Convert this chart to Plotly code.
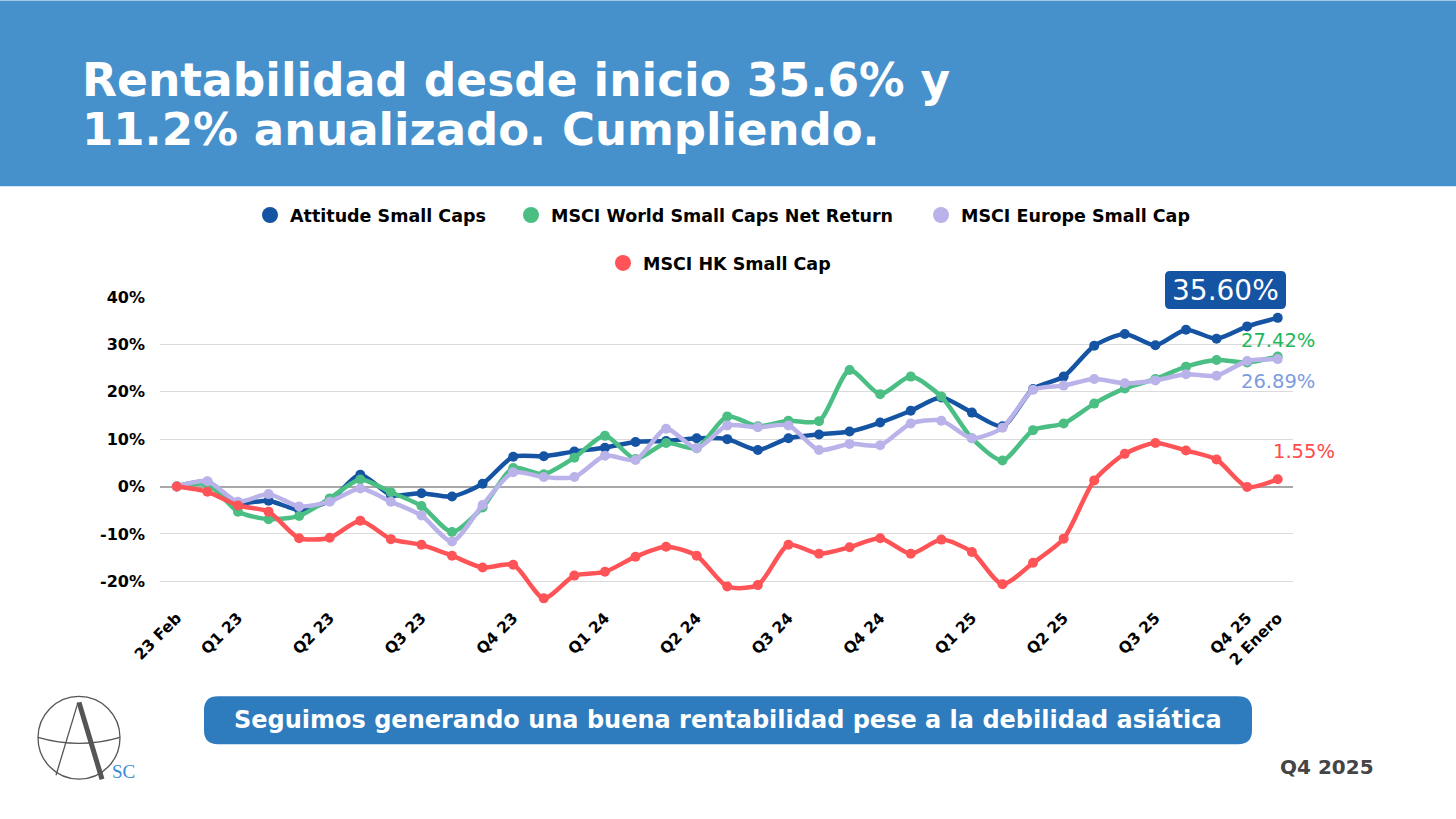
import plotly.graph_objects as go

# ---------------- data ----------------
n_points = 37
x_idx = list(range(n_points))

attitude = [0, 1.0, -3.4, -3.0, -4.9, -3.0, 2.5, -1.8, -1.4, -2.1, 0.6, 6.3, 6.4,
            7.4, 8.2, 9.4, 9.6, 10.2, 10.0, 7.7, 10.2, 11.0, 11.6, 13.5, 16.0,
            18.8, 15.6, 12.7, 20.6, 23.2, 29.7, 32.2, 29.8, 33.1, 31.2, 33.8, 35.6]
msci_world = [0, 0.5, -5.3, -6.9, -6.2, -2.5, 1.5, -1.2, -4.1, -9.6, -4.4, 3.9, 2.6,
              6.1, 10.7, 5.8, 9.2, 8.1, 14.8, 12.7, 13.9, 13.8, 24.6, 19.5, 23.2,
              19.0, 10.2, 5.5, 11.9, 13.3, 17.5, 20.7, 22.7, 25.3, 26.7, 26.2, 27.42]
msci_europe = [0, 1.1, -3.2, -1.6, -4.2, -3.2, -0.4, -3.2, -6.1, -11.6, -3.9, 3.0, 2.0,
               2.0, 6.5, 5.6, 12.2, 8.1, 12.9, 12.5, 12.9, 7.7, 9.0, 8.7, 13.3,
               13.9, 10.2, 12.4, 20.4, 21.3, 22.7, 21.8, 22.4, 23.7, 23.4, 26.5, 26.89]
msci_hk = [0, -1.1, -4.0, -5.3, -10.9, -10.8, -7.2, -11.1, -12.3, -14.6, -17.1, -16.5, -23.6,
           -18.8, -18.0, -14.8, -12.7, -14.6, -21.1, -20.8, -12.3, -14.2, -12.8, -10.9, -14.2,
           -11.2, -13.8, -20.6, -16.1, -11.0, 1.3, 6.9, 9.2, 7.6, 5.7, -0.1, 1.55]

series_names = ["Attitude Small Caps", "MSCI World Small Caps Net Return",
                "MSCI Europe Small Cap", "MSCI HK Small Cap"]
series_values = [attitude, msci_world, msci_europe, msci_hk]
series_colors = ["#1553A3", "#4BBE84", "#B9B3E9", "#FF5457"]

tick_positions = [0, 2, 5, 8, 11, 14, 17, 20, 23, 26, 29, 32, 35, 36]
tick_labels = ["23 Feb", "Q1 23", "Q2 23", "Q3 23", "Q4 23", "Q1 24", "Q2 24",
               "Q3 24", "Q4 24", "Q1 25", "Q2 25", "Q3 25", "Q4 25", "2 Enero"]
y_ticks = [-20, -10, 0, 10, 20, 30, 40]

end_labels = ["35.60%", "27.42%", "26.89%", "1.55%"]

title_lines = ["Rentabilidad desde inicio 35.6% y", "11.2% anualizado. Cumpliendo."]
banner_text = "Seguimos generando una buena rentabilidad pese a la debilidad asiática"
period_text = "Q4 2025"

# ---------------- layout helpers (pixel -> paper) ----------------
W, H = 1456, 819
PL, PR, PT, PB = 160, 1293, 297, 605.5


def px(x):
    return (x - PL) / (PR - PL)


def py(y):
    return (PB - y) / (PB - PT)


FONT = "DejaVu Sans"

fig = go.Figure()

for name, vals, col in zip(series_names, series_values, series_colors):
    fig.add_trace(go.Scatter(
        x=x_idx, y=vals, mode="lines+markers", name=name, showlegend=False,
        line=dict(color=col, width=4.5, shape="spline", smoothing=0.7),
        marker=dict(color=col, size=10),
        hoverinfo="skip",
    ))

# legend entries (circle markers only), one legend per entry for exact placement
legend_ids = ["legend", "legend2", "legend3", "legend4"]
legend_pos = [(271, 215), (532, 215), (942, 215), (624, 263)]  # marker centre, px
for name, col, lid in zip(series_names, series_colors, legend_ids):
    fig.add_trace(go.Scatter(
        x=[None], y=[None], mode="markers", name=name,
        marker=dict(color=col, size=17), legend=lid,
    ))

legend_layout = {}
for lid, (mx, my) in zip(legend_ids, legend_pos):
    legend_layout[lid] = dict(
        orientation="h", x=px(mx - 21), y=py(my), xanchor="left", yanchor="middle",
        font=dict(family=FONT, size=17.5, color="black", weight="bold"),
        itemsizing="trace", bgcolor="rgba(0,0,0,0)", borderwidth=0)

shapes = []
# title band
shapes.append(dict(type="rect", xref="paper", yref="paper", x0=px(0), x1=px(W),
                   y0=py(186), y1=py(0), fillcolor="#4691CB", line=dict(width=0), layer="below"))


def rounded_rect(x0, y0, x1, y1, r):
    X0, X1 = px(x0), px(x1)
    return (f"M {px(x0 + r)} {py(y0)} L {px(x1 - r)} {py(y0)} "
            f"Q {X1} {py(y0)} {X1} {py(y0 + r)} L {X1} {py(y1 - r)} "
            f"Q {X1} {py(y1)} {px(x1 - r)} {py(y1)} L {px(x0 + r)} {py(y1)} "
            f"Q {X0} {py(y1)} {X0} {py(y1 - r)} L {X0} {py(y0 + r)} "
            f"Q {X0} {py(y0)} {px(x0 + r)} {py(y0)} Z")


shapes.append(dict(type="path", xref="paper", yref="paper",
                   path=rounded_rect(204, 697, 1252, 745, 14),
                   fillcolor="#2E7BBE", line=dict(width=0)))
# 35.60% label box
shapes.append(dict(type="path", xref="paper", yref="paper",
                   path=rounded_rect(1165, 271, 1286, 309, 5),
                   fillcolor="#1553A3", line=dict(width=0)))

# logo
shapes.append(dict(type="circle", xref="paper", yref="paper",
                   x0=px(38), x1=px(120), y0=py(697), y1=py(780),
                   line=dict(color="#555555", width=1.3)))
shapes.append(dict(type="path", xref="paper", yref="paper",
                   path=f"M {px(38)} {py(738)} Q {px(79)} {py(750)} {px(120)} {py(738)}",
                   line=dict(color="#555555", width=1.3)))
shapes.append(dict(type="line", xref="paper", yref="paper",
                   x0=px(78), y0=py(703), x1=px(56), y1=py(776),
                   line=dict(color="#555555", width=1.3)))
shapes.append(dict(type="line", xref="paper", yref="paper",
                   x0=px(79), y0=py(703), x1=px(102), y1=py(780),
                   line=dict(color="#555555", width=5)))

annotations = [
    dict(text=f"<b>{title_lines[0]}</b>", x=px(80), y=py(80), xref="paper", yref="paper",
         xanchor="left", yanchor="middle", showarrow=False,
         font=dict(family=FONT, size=45.5, color="white")),
    dict(text=f"<b>{title_lines[1]}</b>", x=px(80), y=py(129), xref="paper", yref="paper",
         xanchor="left", yanchor="middle", showarrow=False,
         font=dict(family=FONT, size=45, color="white")),
    dict(text=f"<b>{banner_text}</b>",
         x=px(728), y=py(721), xref="paper", yref="paper", xanchor="center", yanchor="middle",
         showarrow=False, font=dict(family=FONT, size=24, color="white")),
    dict(text=f"<b>{period_text}</b>", x=px(1327), y=py(768), xref="paper", yref="paper",
         xanchor="center", yanchor="middle", showarrow=False,
         font=dict(family=FONT, size=20, color="#454545")),
    dict(text="SC", x=px(123), y=py(772), xref="paper", yref="paper",
         xanchor="center", yanchor="middle", showarrow=False,
         font=dict(family="Liberation Serif", size=19, color="#3C8BD6")),
    dict(text=end_labels[0], x=px(1225), y=py(290), xref="paper", yref="paper",
         xanchor="center", yanchor="middle", showarrow=False,
         font=dict(family=FONT, size=28, color="white")),
    dict(text=end_labels[1], x=px(1278), y=py(341), xref="paper", yref="paper",
         xanchor="center", yanchor="middle", showarrow=False,
         font=dict(family=FONT, size=19.5, color="#1DB75C")),
    dict(text=end_labels[2], x=px(1278), y=py(382), xref="paper", yref="paper",
         xanchor="center", yanchor="middle", showarrow=False,
         font=dict(family=FONT, size=19.5, color="#7E9BE0")),
    dict(text=end_labels[3], x=px(1304), y=py(452), xref="paper", yref="paper",
         xanchor="center", yanchor="middle", showarrow=False,
         font=dict(family=FONT, size=19.5, color="#FF4B4B")),
]

fig.update_layout(
    width=W, height=H,
    margin=dict(l=PL, r=W - PR, t=PT, b=H - PB, pad=0),
    paper_bgcolor="white", plot_bgcolor="white",
    font=dict(family=FONT, color="black"),
    shapes=shapes, annotations=annotations,
    xaxis=dict(range=[-0.55, 36.5], tickmode="array", tickvals=tick_positions,
               ticktext=tick_labels, tickangle=-45, showgrid=False, zeroline=False,
               showline=False, ticks="", tickfont=dict(family=FONT, size=15.5, color="black", weight="bold")),
    yaxis=dict(range=[-25, 40], tickmode="array", tickvals=y_ticks,
               ticktext=[f"{v}%" for v in y_ticks], showgrid=True, gridcolor="#DADADA",
               gridwidth=1, zeroline=True, zerolinecolor="#A8A8A8", zerolinewidth=1.5,
               showline=False, ticks="", ticklabelstandoff=14,
               tickfont=dict(family=FONT, size=16, color="black", weight="bold")),
    **legend_layout,
)

fig.write_html("out.html", config={"displayModeBar": False},
               post_script="document.body.style.margin='0';document.body.style.overflow='hidden';")
